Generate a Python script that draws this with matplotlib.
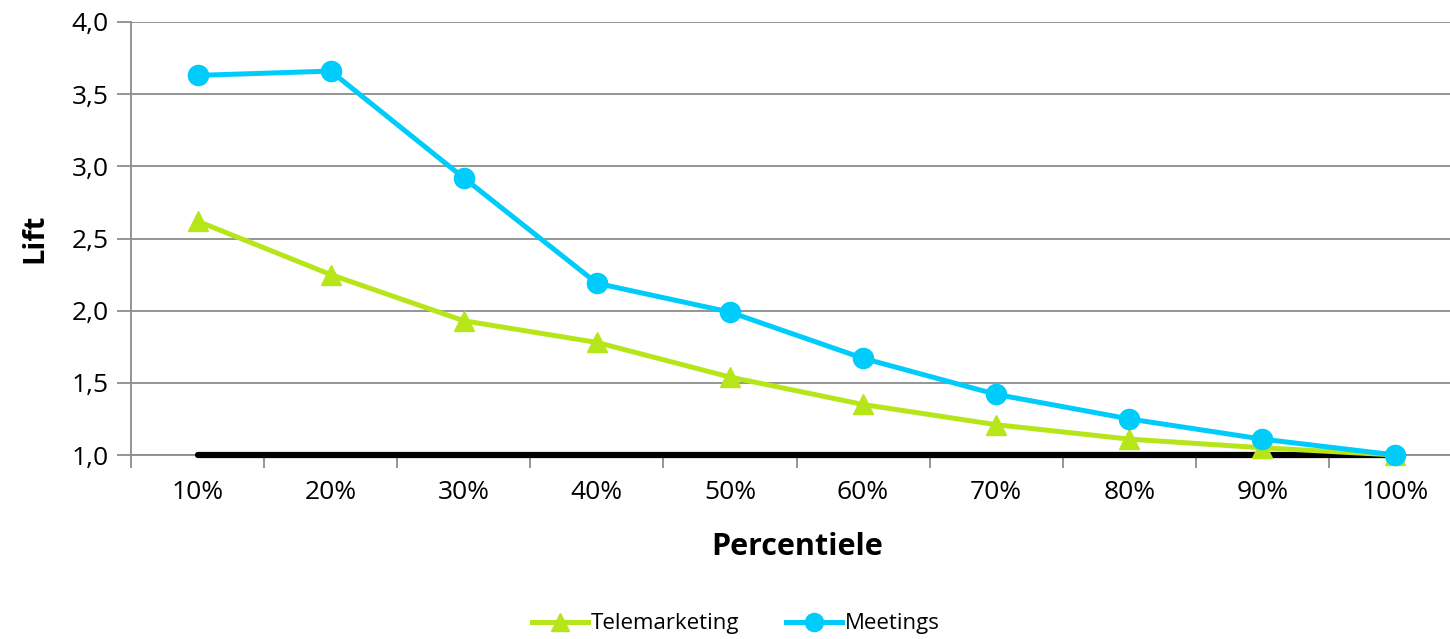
import matplotlib
matplotlib.use("Agg")
import matplotlib.pyplot as plt
import numpy as np

categories = ["10%", "20%", "30%", "40%", "50%", "60%", "70%", "80%", "90%", "100%"]
telemarketing = [2.62, 2.25, 1.93, 1.78, 1.54, 1.35, 1.21, 1.11, 1.05, 1.00]
meetings = [3.63, 3.66, 2.92, 2.19, 1.99, 1.67, 1.42, 1.25, 1.11, 1.00]
baseline = [1.0] * len(categories)
y_ticks = [1.0, 1.5, 2.0, 2.5, 3.0, 3.5, 4.0]

plt.rcParams["font.family"] = ["Open Sans", "DejaVu Sans"]

fig = plt.figure(figsize=(14.5, 6.39), dpi=100)
W, H = 1450, 639
# axes box in pixel terms: left 131, right 1462, top 22, bottom 455
ax = fig.add_axes([131 / W, 1 - 455 / H, (1462 - 131) / W, (455 - 22) / H])

x = np.arange(len(categories))
grey = "#8c8c8c"

ax.set_xlim(-0.5, len(categories) - 0.5)
ax.set_ylim(1.0, 4.0)
for yv in y_ticks:
    ax.axhline(yv, color=grey, lw=1.3, zorder=1)

ax.plot(x, baseline, color="black", lw=4.5, solid_capstyle="round", zorder=3,
        clip_on=False)
ax.plot(x, telemarketing, color="#b6e61a", lw=3.6, marker="^", markersize=14.5,
        label="Telemarketing", zorder=4, clip_on=False)
ax.plot(x, meetings, color="#00ccfc", lw=3.6, marker="o", markersize=14.5,
        label="Meetings", zorder=5, clip_on=False)

ax.set_yticks(y_ticks)
ax.set_yticklabels([f"{v:.1f}".replace(".", ",") for v in y_ticks], fontsize=19)
ax.set_xticks(x)
ax.set_xticklabels(categories, fontsize=19)
ax.set_xticks(np.arange(-0.5, len(categories), 1.0), minor=True)
ax.tick_params(axis="x", which="major", length=0, pad=18)
ax.tick_params(axis="x", which="minor", length=9, color=grey, width=1.3, direction="out")
ax.tick_params(axis="y", length=10, color=grey, width=1.3, pad=6)

for side in ["top", "right"]:
    ax.spines[side].set_visible(False)
for side in ["left", "bottom"]:
    ax.spines[side].set_color(grey)
    ax.spines[side].set_linewidth(1.3)

fig.text(35 / W, 1 - 238 / H, "Lift", rotation=90, fontsize=21, fontweight="bold",
         ha="center", va="center")
fig.text(797 / W, 1 - 547 / H, "Percentiele", fontsize=22, fontweight="bold",
         ha="center", va="center")

fig.legend(loc="center", bbox_to_anchor=(736 / W, 1 - 624 / H), ncol=2, frameon=False,
           fontsize=16, handlelength=2.5, columnspacing=2.1, handletextpad=0.15,
           markerscale=0.9)

fig.savefig("out.png", dpi=100, facecolor="white")
